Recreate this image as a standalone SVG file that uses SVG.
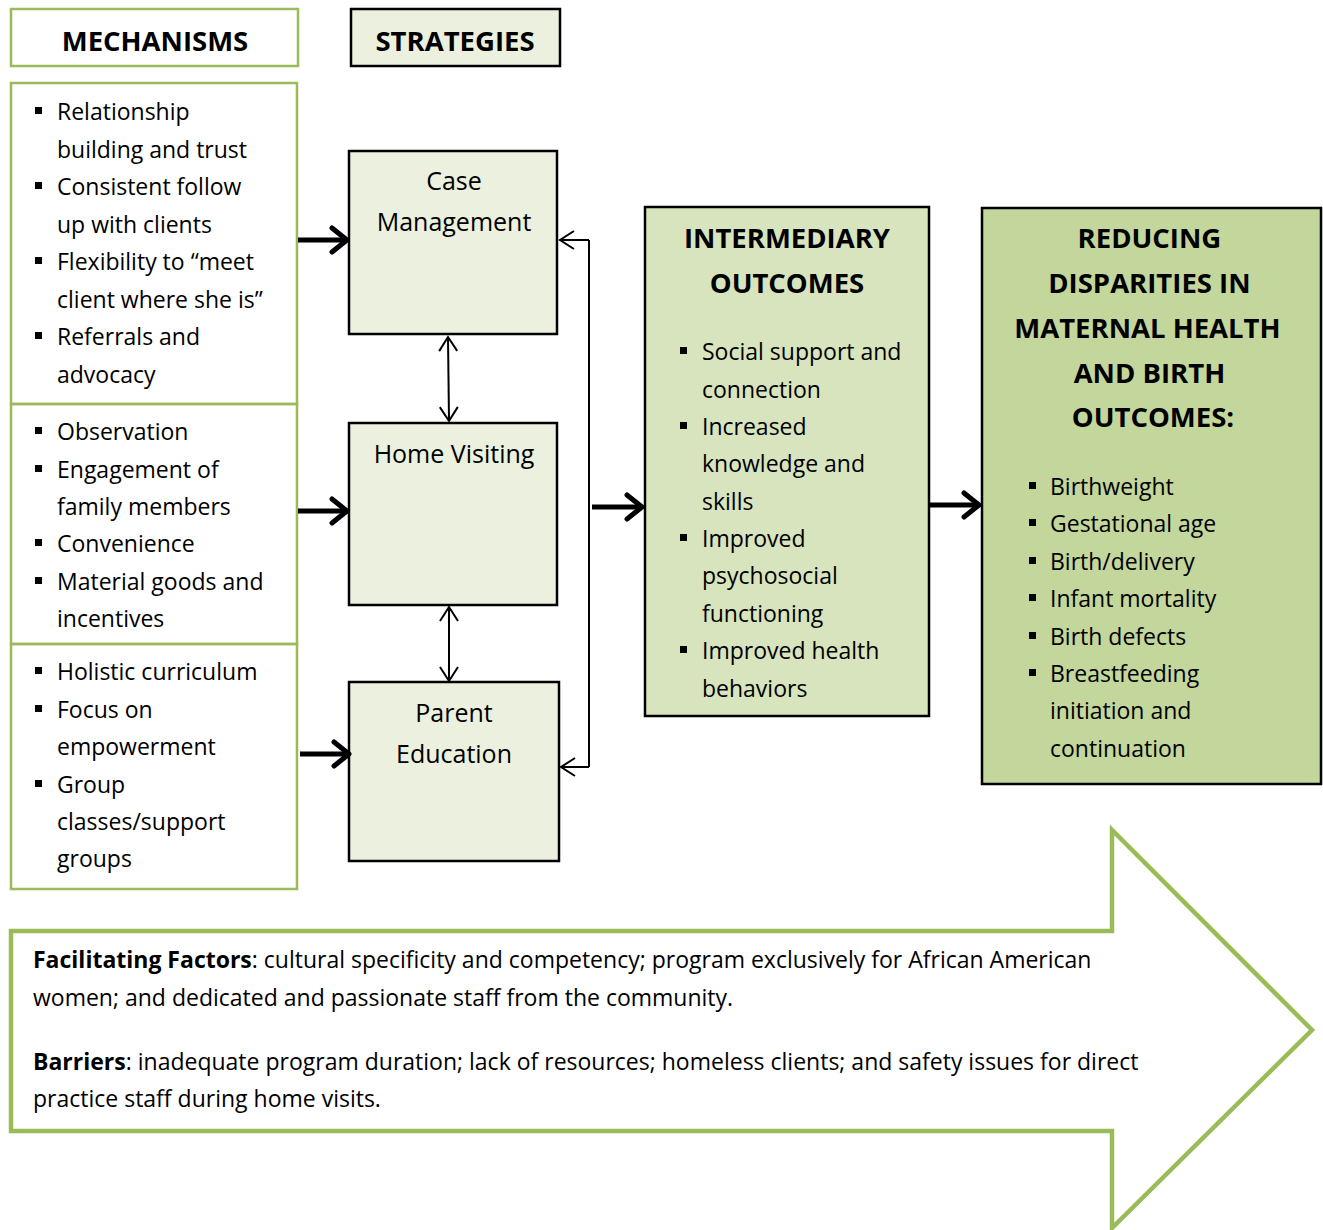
<svg xmlns="http://www.w3.org/2000/svg" width="1323" height="1230" viewBox="0 0 1323 1230">
<style>
text{font-family:"Open Sans","Liberation Sans",sans-serif;fill:#000;}
.b{font-size:23px;}
.h{font-size:27.5px;font-weight:bold;}
.s{font-size:25px;}
.g{fill:none;stroke:#9BBB59;stroke-width:2.5;}
.strat{fill:#EBF1DE;stroke:#000;stroke-width:2.5;}
.thick{fill:none;stroke:#000;stroke-width:5;}
.thin{fill:none;stroke:#000;stroke-width:2;}
.bul{fill:#000;}
</style>
<defs>
<marker id="ah" markerUnits="userSpaceOnUse" markerWidth="22" markerHeight="32" viewBox="0 0 22 32" refX="19" refY="16" orient="auto">
<path d="M4,4 L19,16 L4,28" fill="none" stroke="#000" stroke-width="5" stroke-linecap="round" stroke-linejoin="round"/>
</marker>
<marker id="at" markerUnits="userSpaceOnUse" markerWidth="18" markerHeight="22" viewBox="0 0 18 22" refX="16" refY="11" orient="auto-start-reverse">
<path d="M2,2 L16,11 L2,20" fill="none" stroke="#000" stroke-width="2"/>
</marker>
</defs>

<g id="mechanisms-header">
<rect x="11" y="9" width="287" height="57" class="g"/>
<text x="155" y="51" class="h" text-anchor="middle">MECHANISMS</text>
</g>
<g id="strategies-header">
<rect x="351" y="9" width="209" height="57" class="strat"/>
<text x="455" y="51" class="h" text-anchor="middle">STRATEGIES</text>
</g>

<g id="mech-case">
<rect x="11" y="83" width="286" height="321" class="g"/>
<rect x="35" y="107" width="7" height="7" class="bul"/>
<rect x="35" y="182" width="7" height="7" class="bul"/>
<rect x="35" y="257" width="7" height="7" class="bul"/>
<rect x="35" y="332" width="7" height="7" class="bul"/>
<text class="b" x="57">
<tspan x="57" y="120">Relationship</tspan>
<tspan x="57" y="157.5">building and trust</tspan>
<tspan x="57" y="195">Consistent follow</tspan>
<tspan x="57" y="232.5">up with clients</tspan>
<tspan x="57" y="270">Flexibility to “meet</tspan>
<tspan x="57" y="307.5">client where she is”</tspan>
<tspan x="57" y="345">Referrals and</tspan>
<tspan x="57" y="382.5">advocacy</tspan>
</text>
</g>

<g id="mech-home">
<rect x="11" y="404" width="286" height="240" class="g"/>
<rect x="35" y="427" width="7" height="7" class="bul"/>
<rect x="35" y="465" width="7" height="7" class="bul"/>
<rect x="35" y="539" width="7" height="7" class="bul"/>
<rect x="35" y="577" width="7" height="7" class="bul"/>
<text class="b">
<tspan x="57" y="440">Observation</tspan>
<tspan x="57" y="477.5">Engagement of</tspan>
<tspan x="57" y="515">family members</tspan>
<tspan x="57" y="552">Convenience</tspan>
<tspan x="57" y="589.5">Material goods and</tspan>
<tspan x="57" y="627">incentives</tspan>
</text>
</g>

<g id="mech-parent">
<rect x="11" y="644" width="286" height="245" class="g"/>
<rect x="35" y="667" width="7" height="7" class="bul"/>
<rect x="35" y="705" width="7" height="7" class="bul"/>
<rect x="35" y="780" width="7" height="7" class="bul"/>
<text class="b">
<tspan x="57" y="680">Holistic curriculum</tspan>
<tspan x="57" y="717.5">Focus on</tspan>
<tspan x="57" y="755">empowerment</tspan>
<tspan x="57" y="792.5">Group</tspan>
<tspan x="57" y="830">classes/support</tspan>
<tspan x="57" y="867">groups</tspan>
</text>
</g>

<g id="case-management">
<rect x="349" y="151" width="208" height="183" class="strat"/>
<text class="s" text-anchor="middle"><tspan x="454" y="190">Case</tspan><tspan x="454" y="231">Management</tspan></text>
</g>
<g id="home-visiting">
<rect x="349" y="423" width="208" height="182" class="strat"/>
<text class="s" text-anchor="middle" x="454" y="463">Home Visiting</text>
</g>
<g id="parent-education">
<rect x="349" y="682" width="210" height="179" class="strat"/>
<text class="s" text-anchor="middle"><tspan x="454" y="722">Parent</tspan><tspan x="454" y="763">Education</tspan></text>
</g>

<g id="intermediary-outcomes">
<rect x="645" y="207" width="284" height="509" fill="#D7E4BD" stroke="#000" stroke-width="2.5"/>
<text class="h" text-anchor="middle"><tspan x="787" y="248">INTERMEDIARY</tspan><tspan x="787" y="293">OUTCOMES</tspan></text>
<rect x="680" y="347" width="7" height="7" class="bul"/>
<rect x="680" y="422" width="7" height="7" class="bul"/>
<rect x="680" y="534" width="7" height="7" class="bul"/>
<rect x="680" y="646" width="7" height="7" class="bul"/>
<text class="b">
<tspan x="702" y="360">Social support and</tspan>
<tspan x="702" y="397.5">connection</tspan>
<tspan x="702" y="435">Increased</tspan>
<tspan x="702" y="472">knowledge and</tspan>
<tspan x="702" y="509.5">skills</tspan>
<tspan x="702" y="547">Improved</tspan>
<tspan x="702" y="584">psychosocial</tspan>
<tspan x="702" y="621.5">functioning</tspan>
<tspan x="702" y="659">Improved health</tspan>
<tspan x="702" y="696.5">behaviors</tspan>
</text>
</g>

<g id="reducing-disparities">
<rect x="982" y="208" width="339" height="576" fill="#C3D69B" stroke="#000" stroke-width="2.5"/>
<text class="h" text-anchor="middle">
<tspan x="1153" y="248">REDUCING</tspan>
<tspan x="1153" y="293">DISPARITIES IN</tspan>
<tspan x="1151" y="338">MATERNAL HEALTH</tspan>
<tspan x="1153" y="383">AND BIRTH</tspan>
<tspan x="1153" y="427">OUTCOMES:</tspan>
</text>
<rect x="1029" y="482" width="7" height="7" class="bul"/>
<rect x="1029" y="519" width="7" height="7" class="bul"/>
<rect x="1029" y="557" width="7" height="7" class="bul"/>
<rect x="1029" y="594" width="7" height="7" class="bul"/>
<rect x="1029" y="632" width="7" height="7" class="bul"/>
<rect x="1029" y="669" width="7" height="7" class="bul"/>
<text class="b">
<tspan x="1050" y="495">Birthweight</tspan>
<tspan x="1050" y="532">Gestational age</tspan>
<tspan x="1050" y="570">Birth/delivery</tspan>
<tspan x="1050" y="607">Infant mortality</tspan>
<tspan x="1050" y="645">Birth defects</tspan>
<tspan x="1050" y="682">Breastfeeding</tspan>
<tspan x="1050" y="719">initiation and</tspan>
<tspan x="1050" y="757">continuation</tspan>
</text>
</g>

<g id="factors-arrow">
<polygon points="11,931 1112,931 1112,830 1312,1030 1112,1228 1112,1131 11,1131" fill="none" stroke="#9BBB59" stroke-width="4.5"/>
<text class="b">
<tspan x="33" y="968"><tspan font-weight="bold">Facilitating Factors</tspan>: cultural specificity and competency; program exclusively for African American</tspan>
<tspan x="33" y="1006">women; and dedicated and passionate staff from the community.</tspan>
<tspan x="33" y="1070"><tspan font-weight="bold">Barriers</tspan>: inadequate program duration; lack of resources; homeless clients; and safety issues for direct</tspan>
<tspan x="33" y="1107">practice staff during home visits.</tspan>
</text>
</g>

<g id="connectors">
<path class="thick" d="M298,240 L347,240" marker-end="url(#ah)"/>
<path class="thick" d="M298,511 L347,511" marker-end="url(#ah)"/>
<path class="thick" d="M300,754 L349,754" marker-end="url(#ah)"/>
<path class="thin" d="M448,337 L449,421" marker-start="url(#at)" marker-end="url(#at)"/>
<path class="thin" d="M449,607 L449,681" marker-start="url(#at)" marker-end="url(#at)"/>
<path class="thin" d="M589,240 L589,767"/>
<path class="thin" d="M589,240 L560,240" marker-end="url(#at)"/>
<path class="thin" d="M589,767 L561,767" marker-end="url(#at)"/>
<path class="thick" d="M592,507 L642,507" marker-end="url(#ah)"/>
<path class="thick" d="M929,505 L979,505" marker-end="url(#ah)"/>
</g>
</svg>
